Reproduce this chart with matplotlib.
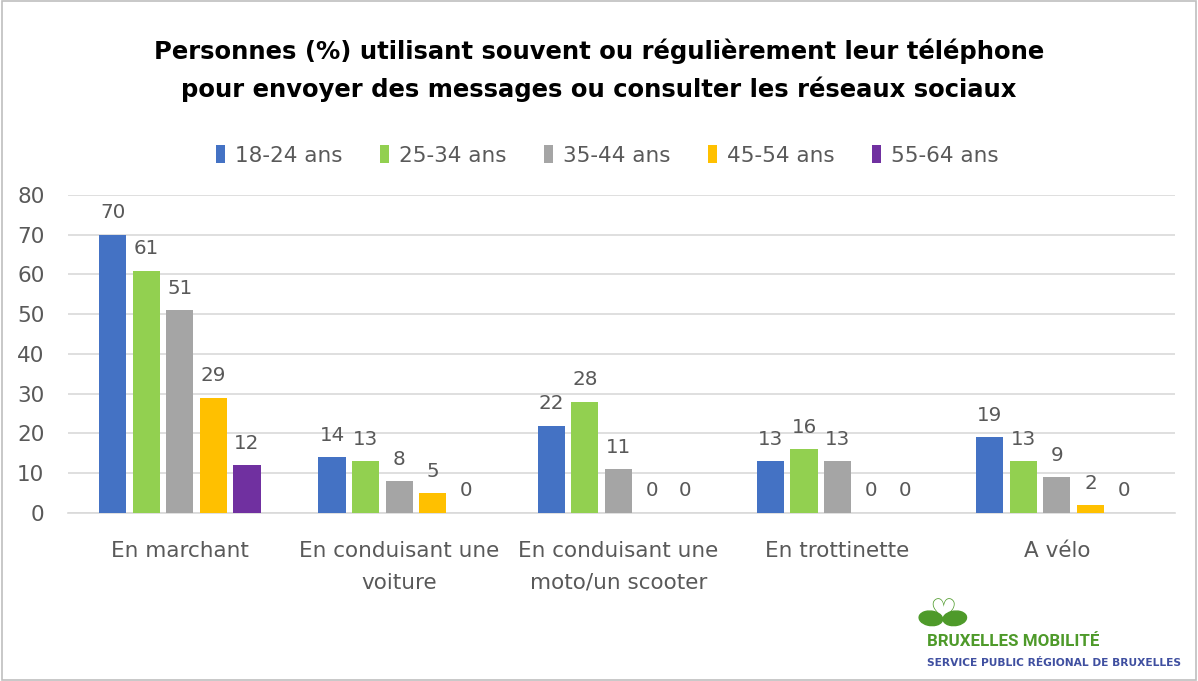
import matplotlib.pyplot as plt
import numpy as np
from matplotlib.patches import Ellipse, Rectangle

categories = ["En marchant", "En conduisant une\nvoiture", "En conduisant une\nmoto/un scooter",
              "En trottinette", "A vélo"]
series_names = ["18-24 ans", "25-34 ans", "35-44 ans", "45-54 ans", "55-64 ans"]
age_18_24 = [70, 14, 22, 13, 19]
age_25_34 = [61, 13, 28, 16, 13]
age_35_44 = [51, 8, 11, 13, 9]
age_45_54 = [29, 5, 0, 0, 2]
age_55_64 = [12, 0, 0, 0, 0]
colors = ["#4472C4", "#92D050", "#A5A5A5", "#FFC000", "#7030A0"]
yticks = [0, 10, 20, 30, 40, 50, 60, 70, 80]

TXT = "#595959"
FONT = "DejaVu Sans"


def main() -> None:
    fig = plt.figure(figsize=(11.98, 6.81), dpi=100)
    ax = fig.add_axes([0.0568, 0.2467, 0.9242, 0.467])

    x = np.arange(len(categories))
    pitch = 0.153
    width = 0.124
    all_series = [age_18_24, age_25_34, age_35_44, age_45_54, age_55_64]
    for i, (vals, name, col) in enumerate(zip(all_series, series_names, colors)):
        pos = x + (i - 2) * pitch
        bars = ax.bar(pos, vals, width=width, color=col, label=name, zorder=3)
        for b, v in zip(bars, vals):
            ax.annotate(str(v), (b.get_x() + b.get_width() / 2, v), xytext=(0, 9),
                        textcoords="offset points", ha="center", va="bottom",
                        fontsize=14.3, color=TXT, family=FONT)

    ax.set_xlim(-0.51, 4.54)
    ax.set_ylim(0, 80)
    ax.set_yticks(yticks)
    ax.yaxis.grid(True, color="#D9D9D9", linewidth=1.2, zorder=0)
    ax.set_xticks(x)
    ax.set_xticklabels(categories, linespacing=1.75)
    for lab in ax.get_xticklabels() + ax.get_yticklabels():
        lab.set_family(FONT)
        lab.set_fontsize(15.5)
        lab.set_color(TXT)
    ax.tick_params(axis="x", length=0, pad=20)
    ax.tick_params(axis="y", length=0, pad=17)
    for s in ["top", "right", "left"]:
        ax.spines[s].set_visible(False)
    ax.spines["bottom"].set_color("#D9D9D9")
    ax.spines["bottom"].set_linewidth(1.2)

    fig.text(0.5, 0.897, "Personnes (%) utilisant souvent ou régulièrement leur téléphone\n"
             "pour envoyer des messages ou consulter les réseaux sociaux",
             ha="center", va="center", fontsize=17.5, fontweight="bold", family="DejaVu Sans",
             linespacing=1.6, color="black")

    leg = fig.legend(loc="center", bbox_to_anchor=(0.507, 0.772), ncol=5, frameon=False,
                     handlelength=0.42, handleheight=0.95, handletextpad=0.45, columnspacing=1.75,
                     prop={"family": FONT, "size": 15.5})
    for t in leg.get_texts():
        t.set_color(TXT)

    # logo
    green = "#4E9A2A"
    fig.patches.append(Ellipse((0.777, 0.092), 0.019, 0.022, angle=25, color=green,
                               transform=fig.transFigure, figure=fig))
    fig.patches.append(Ellipse((0.797, 0.092), 0.019, 0.022, angle=-25, color=green,
                               transform=fig.transFigure, figure=fig))
    fig.text(0.787, 0.1, "♡", ha="center", va="center", fontsize=22, color=green,
             fontweight="bold", family="DejaVu Sans")
    fig.text(0.774, 0.058, "BRUXELLES MOBILITÉ", fontsize=12.2, fontweight="bold",
             color=green, family="Roboto", va="center")
    fig.text(0.774, 0.027, "SERVICE PUBLIC RÉGIONAL DE BRUXELLES", fontsize=7.7,
             fontweight="bold", color="#3F4FA0", family="DejaVu Sans", va="center")

    fig.patches.append(Rectangle((0.002, 0.002), 0.996, 0.996, fill=False, edgecolor="#BFBFBF",
                                 linewidth=1.2, transform=fig.transFigure, figure=fig))
    fig.savefig("out.png", dpi=100)


if __name__ == "__main__":
    main()
